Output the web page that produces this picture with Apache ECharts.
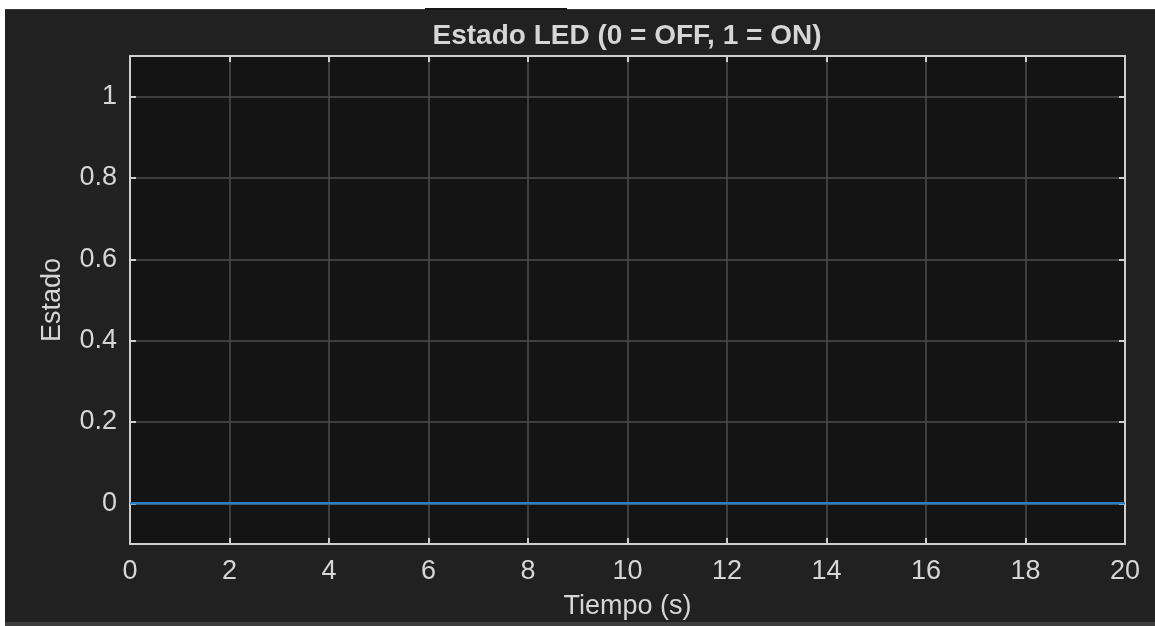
<!DOCTYPE html>
<html>
<head>
<meta charset="utf-8">
<script src="https://cdn.jsdelivr.net/npm/echarts@6/dist/echarts.min.js"></script>
<style>
  html, body { margin: 0; padding: 0; background: #ffffff; }
  #panel { position: absolute; left: 5px; top: 9px; width: 1150px; height: 617px;
           background: #212121; border-top: 1px solid #3a3a3a; box-sizing: border-box; }
  #seg { position: absolute; left: 425px; top: 8px; width: 142px; height: 2px; background: #161616; }
  #foot { position: absolute; left: 5px; top: 622px; width: 1150px; height: 4px; background: #3e3e3e; }
  #chart { position: absolute; left: 0; top: 0; width: 1155px; height: 626px; }
</style>
</head>
<body>
<div id="panel"></div>
<div id="seg"></div>
<div id="foot"></div>
<div id="chart"></div>
<script>
// ---- data ----
const titleText = 'Estado LED (0 = OFF, 1 = ON)';
const xName = 'Tiempo (s)';
const yName = 'Estado';
const tiempo = [0, 20];
const estado = [0, 0];
const yTicks = [0, 0.2, 0.4, 0.6, 0.8, 1];
const xMin = 0, xMax = 20, xStep = 2;
const yMin = -0.1, yMax = 1.1;

const FONT = 'Liberation Sans';
const TXT = '#d6d6d6';
const AXIS = '#cfcfcf';
const GRIDC = '#4c4c4c';

const chart = echarts.init(document.getElementById('chart'), null, { renderer: 'canvas' });

const baseX = {
  type: 'value', min: xMin, max: xMax, interval: xStep,
  axisLine: { show: true, onZero: false, lineStyle: { color: AXIS, width: 2 } },
  axisTick: { show: true, inside: true, length: 6, lineStyle: { color: AXIS, width: 2 } },
};
const baseY = {
  type: 'value', min: yMin, max: yMax,
  axisLine: { show: true, onZero: false, lineStyle: { color: AXIS, width: 2 } },
  axisTick: { show: true, inside: true, length: 6, customValues: yTicks, lineStyle: { color: AXIS, width: 2 } },
};

chart.setOption({
  backgroundColor: 'transparent',
  animation: false,
  title: {
    text: titleText, left: 627, top: 22, textAlign: 'center', padding: 0,
    textStyle: { color: TXT, fontFamily: FONT, fontWeight: 'bold', fontSize: 28 }
  },
  grid: { left: 130, right: 30, top: 56, bottom: 82, show: true, backgroundColor: '#141414', borderWidth: 0 },
  xAxis: [
    Object.assign({}, baseX, {
      position: 'bottom',
      name: xName, nameLocation: 'middle', nameGap: 49,
      nameTextStyle: { color: TXT, fontFamily: FONT, fontSize: 27 },
      axisLabel: { color: TXT, fontFamily: FONT, fontSize: 27, margin: 14 },
      splitLine: { show: true, lineStyle: { color: GRIDC, width: 1.5 } }
    }),
    Object.assign({}, baseX, {
      position: 'top',
      axisLabel: { show: false },
      splitLine: { show: false }
    })
  ],
  yAxis: [
    Object.assign({}, baseY, {
      position: 'left',
      name: yName, nameLocation: 'middle', nameGap: 64, nameRotate: 90,
      nameTextStyle: { color: TXT, fontFamily: FONT, fontSize: 27 },
      axisLabel: { color: TXT, fontFamily: FONT, fontSize: 27, margin: 13, customValues: yTicks },
      splitLine: { show: true, lineStyle: { color: GRIDC, width: 1.5 } }
    }),
    Object.assign({}, baseY, {
      position: 'right',
      axisLabel: { show: false },
      splitLine: { show: false }
    })
  ],
  series: [{
    type: 'line',
    data: tiempo.map((t, i) => [t, estado[i]]),
    showSymbol: false,
    lineStyle: { color: '#2f7fc0', width: 2.5 },
    z: 5
  }]
});
</script>
</body>
</html>
